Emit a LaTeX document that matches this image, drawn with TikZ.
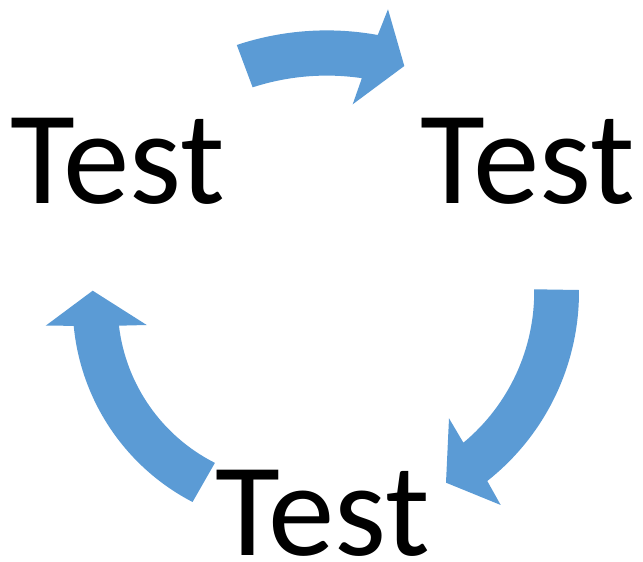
\documentclass[tikz,border=0pt]{standalone}
\usepackage{fontspec}
\setmainfont{Carlito}
\definecolor{arrowblue}{HTML}{5B9BD5}
\begin{document}
\begin{tikzpicture}[x=1pt,y=1pt,
  blockarrow/.style={fill=arrowblue,draw=none},
  txt/.style={inner sep=0pt,outer sep=0pt,anchor=base west,text depth=0pt,font=\fontsize{133}{133}\selectfont}]
\useasboundingbox (0,0) rectangle (643,562);
% centres of the arcs
\coordinate (cL) at (294.7,257.1);
\coordinate (cR) at (338.2,270.1);
\coordinate (cT) at (326.8,246.4);
% left arrow (pointing up)
\coordinate (lTip) at (92.7,271.3);
\coordinate (lHR) at (146.7,237);
\coordinate (lHL) at (45.7,236.3);
\fill[blockarrow] (lTip) -- (lHR) -- ([shift={(cL)}]186.75:177) arc[start angle=186.75,end angle=243.2,radius=177pt]
  -- ([shift={(cL)}]242.6:222) arc[start angle=242.6,end angle=185.4,radius=222pt] -- (lHL) -- cycle;
% right arrow (pointing down-left)
\coordinate (rTip) at (446,79.3);
\coordinate (rHT) at (449,143.7);
\coordinate (rHB) at (500.7,57);
\fill[blockarrow] (rTip) -- (rHT) -- ([shift={(cR)}]-50.3:196) arc[start angle=-50.3,end angle=0.76,radius=196pt]
  -- ([shift={(cR)}]0.45:240.8) arc[start angle=0.45,end angle=-51.75,radius=240.8pt] -- (rHB) -- cycle;
% top arrow (pointing right)
\coordinate (tTip) at (404.3,496);
\coordinate (tHT) at (388,552.7);
\coordinate (tHB) at (352.7,457.7);
\fill[blockarrow] (tTip) -- (tHT) -- ([shift={(cT)}]79.7:285.2) arc[start angle=79.7,end angle=108.4,radius=285.2pt]
  -- ([shift={(cT)}]108.0:240) arc[start angle=108,end angle=81.6,radius=240pt] -- (tHB) -- cycle;
% texts
\node[txt] (tl) at (10.5,358.7) {Test};
\node[txt] (tr) at (420.5,358.7) {Test};
\node[txt] (tb) at (215.5,6) {Test};
\end{tikzpicture}
\end{document}
